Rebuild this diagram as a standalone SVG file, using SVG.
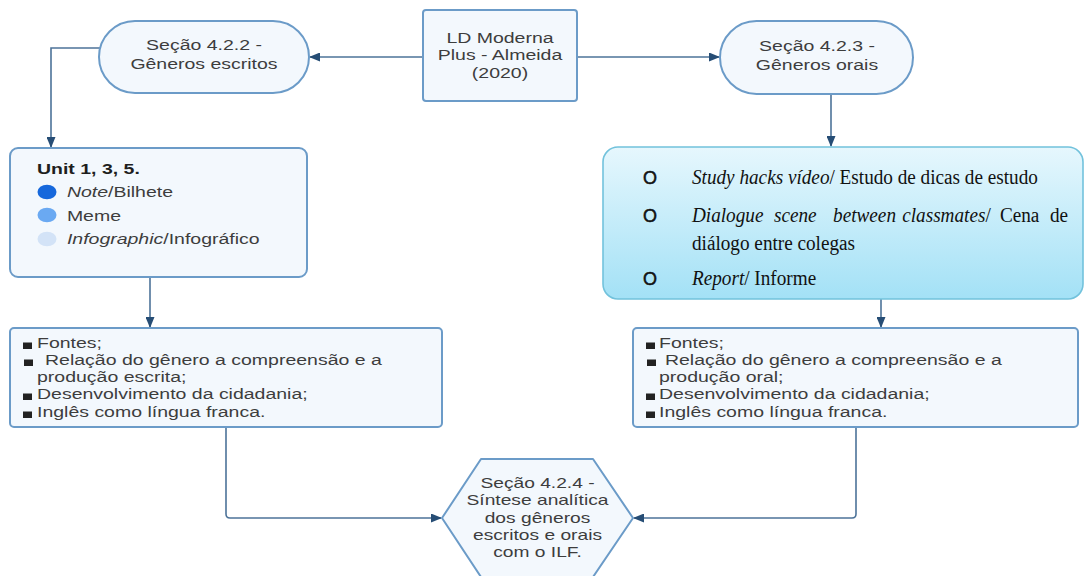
<svg xmlns="http://www.w3.org/2000/svg" width="1084" height="576" viewBox="0 0 1084 576">
<style>
.node{fill:#f3f8fd;stroke:#6b9bc8;stroke-width:2}
.s{font-family:"Liberation Sans",Arial,sans-serif;font-size:15px;fill:#3d3d3d}
.c{text-anchor:middle}
.d{fill:#1e1e1e}
.t{font-family:"Liberation Serif","Times New Roman",serif;font-size:20px;fill:#111}
.o{font-family:"Liberation Sans",Arial,sans-serif;font-size:18px;fill:#111;stroke:#111;stroke-width:0.5;text-anchor:middle}
.conn{fill:none;stroke:#4d7399;stroke-width:1.6}
.b{fill:#222}
</style>
<defs>
<marker id="ah" markerUnits="userSpaceOnUse" markerWidth="11" markerHeight="9" refX="10" refY="4.5" orient="auto">
<path d="M0,0 L11,4.5 L0,9 z" fill="#264d75"/>
</marker>
<linearGradient id="tg" x1="0" y1="0" x2="0" y2="1">
<stop offset="0" stop-color="#e6f7fd"/>
<stop offset="1" stop-color="#a3e1f6"/>
</linearGradient>
</defs>

<g id="connectors">
<path class="conn" d="M423,57 H310" marker-end="url(#ah)"/>
<path class="conn" d="M577,57 H719" marker-end="url(#ah)"/>
<path class="conn" d="M101,48 H51 V147" marker-end="url(#ah)"/>
<path class="conn" d="M831,94 V146" marker-end="url(#ah)"/>
<path class="conn" d="M150,277 V327" marker-end="url(#ah)"/>
<path class="conn" d="M881,299 V327" marker-end="url(#ah)"/>
<path class="conn" d="M226,427 V514 Q226,518 230,518 H441" marker-end="url(#ah)"/>
<path class="conn" d="M856,427 V514 Q856,518 852,518 H634" marker-end="url(#ah)"/>
</g>

<g id="ld">
<rect class="node" x="423" y="10" width="154" height="91" rx="3"/>
<g transform="translate(500,0) scale(1.3,1)">
<text class="s c" x="0" y="43">LD Moderna</text>
<text class="s c" x="0" y="60.5">Plus - Almeida</text>
<text class="s c" x="0" y="78">(2020)</text>
</g>
</g>

<g id="secao422">
<rect class="node" x="99" y="21" width="210" height="72" rx="36"/>
<g transform="translate(204,0) scale(1.3,1)">
<text class="s c" x="0" y="50">Seção 4.2.2 -</text>
<text class="s c" x="0" y="69">Gêneros escritos</text>
</g>
</g>

<g id="secao423">
<rect class="node" x="720" y="21" width="193" height="73" rx="36.5"/>
<g transform="translate(817,0) scale(1.3,1)">
<text class="s c" x="0" y="51">Seção 4.2.3 -</text>
<text class="s c" x="0" y="70">Gêneros orais</text>
</g>
</g>

<g id="units">
<rect class="node" x="10" y="148" width="297" height="129" rx="8"/>
<ellipse cx="47" cy="192" rx="9.5" ry="7.3" fill="#1668dc"/>
<ellipse cx="47" cy="215" rx="9.5" ry="7.3" fill="#6aa9f2"/>
<ellipse cx="47" cy="239" rx="9.5" ry="7.3" fill="#d3e3f7"/>
<g transform="translate(37,0) scale(1.3,1)">
<text class="s d" x="0" y="174" font-weight="bold">Unit 1, 3, 5.</text>
<text class="s" x="23" y="197"><tspan font-style="italic">Note</tspan>/Bilhete</text>
<text class="s" x="23" y="221">Meme</text>
<text class="s" x="23" y="244"><tspan font-style="italic">Infographic</tspan>/Infográfico</text>
</g>
</g>

<g id="orais">
<rect x="603" y="147" width="480" height="152" rx="15" fill="url(#tg)" stroke="#72c2dc" stroke-width="1.6"/>
<text class="o" x="650" y="184">O</text>
<text class="o" x="650" y="222">O</text>
<text class="o" x="650" y="285">O</text>
<g transform="translate(692,0) scale(0.96,1)">
<text class="t" x="0" y="184"><tspan font-style="italic">Study hacks vídeo</tspan>/ Estudo de dicas de estudo</text>
<text class="t" x="0" y="222" font-style="italic">Dialogue</text>
<text class="t" x="85.4" y="222" font-style="italic">scene</text>
<text class="t" x="147" y="222" font-style="italic">between</text>
<text class="t" x="219" y="222"><tspan font-style="italic">classmates</tspan>/</text>
<text class="t" x="320.8" y="222">Cena</text>
<text class="t" x="372.9" y="222">de</text>
<text class="t" x="0" y="250">diálogo entre colegas</text>
<text class="t" x="0" y="285"><tspan font-style="italic">Report</tspan>/ Informe</text>
</g>
</g>

<g id="escritaBox">
<rect class="node" x="10" y="328" width="432" height="99" rx="4"/>
<rect class="b" x="23" y="342.5" width="9" height="6.5"/>
<rect class="b" x="24" y="359.5" width="9" height="6.5"/>
<rect class="b" x="23" y="393.5" width="9" height="6.5"/>
<rect class="b" x="23" y="411.5" width="9" height="6.5"/>
<g transform="translate(37,0) scale(1.3,1)">
<text class="s" x="0" y="348">Fontes;</text>
<text class="s" x="6.2" y="365.5">Relação do gênero a compreensão e a</text>
<text class="s" x="0" y="382.5">produção escrita;</text>
<text class="s" x="0" y="399.5">Desenvolvimento da cidadania;</text>
<text class="s" x="0" y="417">Inglês como língua franca.</text>
</g>
</g>

<g id="oralBox">
<rect class="node" x="633" y="328" width="445" height="99" rx="4"/>
<rect class="b" x="646" y="342.5" width="9" height="6.5"/>
<rect class="b" x="647" y="359.5" width="9" height="6.5"/>
<rect class="b" x="646" y="393.5" width="9" height="6.5"/>
<rect class="b" x="646" y="411.5" width="9" height="6.5"/>
<g transform="translate(659,0) scale(1.3,1)">
<text class="s" x="0" y="348">Fontes;</text>
<text class="s" x="4.6" y="365.5">Relação do gênero a compreensão e a</text>
<text class="s" x="0" y="382.5">produção oral;</text>
<text class="s" x="0" y="399.5">Desenvolvimento da cidadania;</text>
<text class="s" x="0" y="417">Inglês como língua franca.</text>
</g>
</g>

<g id="secao424">
<polygon class="node" stroke-linejoin="round" points="442,518 481,459 593,459 633,518 593,577 481,577"/>
<g transform="translate(537.5,0) scale(1.28,1)">
<text class="s c" x="0" y="488">Seção 4.2.4 -</text>
<text class="s c" x="0" y="505.5">Síntese analítica</text>
<text class="s c" x="0" y="523">dos gêneros</text>
<text class="s c" x="0" y="540">escritos e orais</text>
<text class="s c" x="0" y="557">com o ILF.</text>
</g>
</g>
</svg>
